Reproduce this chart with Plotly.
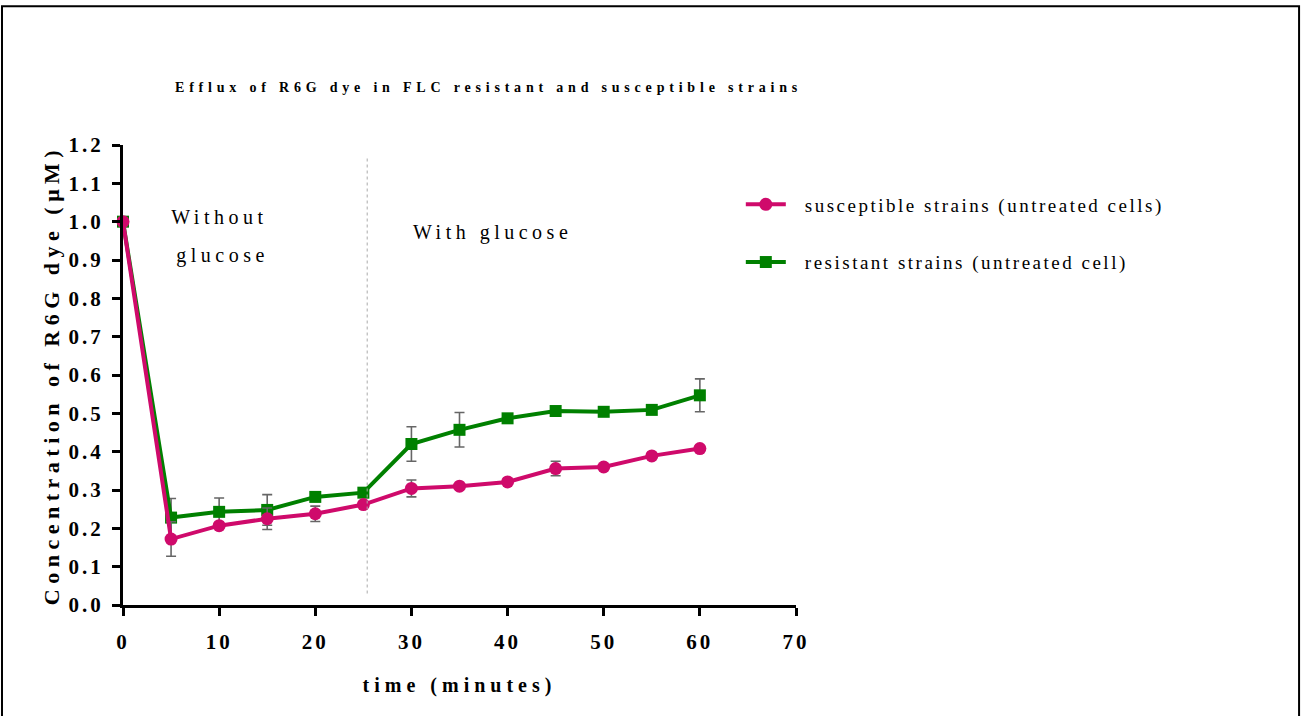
import plotly.graph_objects as go

time_min = [0, 5, 10, 15, 20, 25, 30, 35, 40, 45, 50, 55, 60]
susceptible = [1.0, 0.172, 0.207, 0.225, 0.238, 0.262, 0.304, 0.310, 0.321, 0.356, 0.360, 0.389, 0.408]
susceptible_err = [0, 0.045, 0, 0.028, 0.020, 0, 0.022, 0, 0, 0.019, 0, 0, 0]
resistant = [1.0, 0.228, 0.243, 0.248, 0.282, 0.293, 0.420, 0.457, 0.487, 0.506, 0.504, 0.509, 0.547]
resistant_err = [0, 0.050, 0.036, 0.040, 0, 0, 0.045, 0.045, 0, 0, 0, 0, 0.043]

x_ticks = [0, 10, 20, 30, 40, 50, 60, 70]
y_ticks = [0.0, 0.1, 0.2, 0.3, 0.4, 0.5, 0.6, 0.7, 0.8, 0.9, 1.0, 1.1, 1.2]

PINK = "#CF0A6B"
GREEN = "#008000"
SERIF = "Liberation Serif, Times New Roman, serif"

fig = go.Figure()
fig.add_trace(go.Scatter(
    x=time_min, y=resistant, name="resistant strains (untreated cell)",
    mode="lines+markers", cliponaxis=False, legendrank=2, legendgroup="r",
    line=dict(color=GREEN, width=4),
    marker=dict(symbol="square", size=12, color=GREEN),
    error_y=dict(type="data", array=resistant_err, color="#666666", thickness=1.6, width=5),
))
fig.add_trace(go.Scatter(
    x=time_min, y=susceptible, name="susceptible strains (untreated cells)",
    mode="lines+markers", cliponaxis=False, legendrank=1, legendgroup="s",
    line=dict(color=PINK, width=4),
    marker=dict(symbol="circle", size=13, color=PINK),
    error_y=dict(type="data", array=susceptible_err, color="#666666", thickness=1.6, width=5),
))

fig.add_shape(type="line", xref="x", yref="y", x0=25.4, x1=25.4, y0=0.03, y1=1.17,
              line=dict(color="#aaaaaa", width=1, dash="dot"))
# outer frame
fig.add_shape(type="rect", xref="paper", yref="paper",
              x0=-0.1798, x1=1.7475, y0=-0.3, y1=1.3015,
              line=dict(color="black", width=2))

fig.add_annotation(x=10, y=1.012, xref="x", yref="y", text="Without",
                   showarrow=False, font=dict(family=SERIF, size=20, color="black"))
fig.add_annotation(x=10.4, y=0.913, xref="x", yref="y", text="glucose",
                   showarrow=False, font=dict(family=SERIF, size=20, color="black"))
fig.add_annotation(x=38.4, y=0.973, xref="x", yref="y", text="With glucose",
                   showarrow=False, font=dict(family=SERIF, size=20, color="black"))

fig.update_layout(
    width=1302, height=716,
    margin=dict(l=123, r=506, t=145, b=111),
    paper_bgcolor="white", plot_bgcolor="white",
    title=dict(text="<b>Efflux of R6G dye in FLC resistant and susceptible strains</b>",
               x=175 / 1302, xanchor="left", y=1 - 87 / 716, yanchor="middle",
               font=dict(family=SERIF, size=14, color="black")),
    showlegend=True,
    legend=dict(x=0.918, y=0.912, xanchor="left", yanchor="top",
                font=dict(family=SERIF, size=19, color="black"),
                itemwidth=40,
                tracegroupgap=30, bgcolor="rgba(0,0,0,0)"),
    xaxis=dict(range=[0, 70], tickvals=x_ticks, ticktext=[str(v) for v in x_ticks],
               showgrid=False, zeroline=False, showline=True, linecolor="black", linewidth=3,
               ticks="outside", ticklen=8, tickwidth=3, tickcolor="black",
               ticklabelstandoff=8,
               tickfont=dict(family=SERIF, size=21, color="black", weight="bold"),
               title=dict(text="<b>time (minutes)</b>", standoff=25,
                          font=dict(family=SERIF, size=20, color="black"))),
    yaxis=dict(range=[0, 1.2], tickvals=y_ticks, ticktext=[f"{v:.1f}" for v in y_ticks],
               showgrid=False, zeroline=False, showline=True, linecolor="black", linewidth=3,
               ticks="outside", ticklen=8, tickwidth=3, tickcolor="black",
               ticklabelstandoff=4,
               tickfont=dict(family=SERIF, size=21, color="black", weight="bold"),
               title=dict(text="<b>Concentration of R6G dye (μM)</b>", standoff=12,
                          font=dict(family=SERIF, size=22, color="black"))),
)

post = """
document.body.style.margin = '0';
document.body.style.overflow = 'hidden';
var gd = document.getElementById('{plot_id}');
function ls(sel, v){ gd.querySelectorAll(sel).forEach(function(e){ e.style.letterSpacing = v; }); }
function apply(){
  ls('.gtitle', '4.8px');
  ls('.annotation-text', '4.5px');
  ls('.legendtext', '2.5px');
  ls('.xtitle', '5px');
  ls('.ytitle', '5.5px');
  ls('.xtick text', '3px');
  ls('.ytick text', '3px');
  gd.querySelectorAll('.legend .scrollbox').forEach(function(e){ e.removeAttribute('clip-path'); });
  gd.querySelectorAll('.legend [clip-path]').forEach(function(e){ e.removeAttribute('clip-path'); });
  gd.querySelectorAll('.legendtext').forEach(function(e){
    if (!e.getAttribute('data-shifted')) {
      e.setAttribute('x', parseFloat(e.getAttribute('x') || 0) + 14);
      e.setAttribute('data-shifted', '1');
    }
  });
}
apply();
gd.on('plotly_afterplot', apply);
"""

fig.write_html("out.html", post_script=post, config={"displayModeBar": False})
